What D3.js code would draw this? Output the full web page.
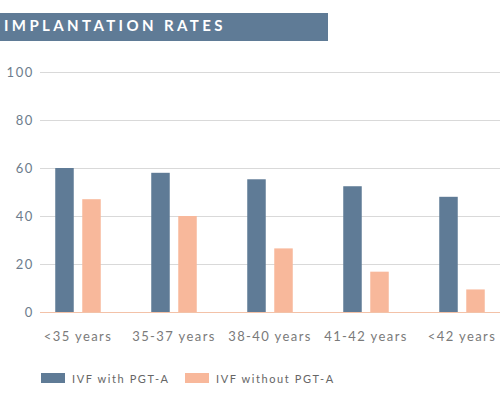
<!DOCTYPE html>
<html>
<head>
<meta charset="utf-8">
<script src="https://cdn.jsdelivr.net/npm/d3@7"></script>
<style>
  html, body { margin: 0; padding: 0; background: #fff; }
  svg { display: block; }
</style>
</head>
<body>
<svg id="chart" width="500" height="400"></svg>
<script>
const title = "IMPLANTATION RATES";
const categories = ["<35 years", "35-37 years", "38-40 years", "41-42 years", "<42 years"];
const seriesNames = ["IVF with PGT-A", "IVF without PGT-A"];
const withPGTA = [60, 58, 55.3, 52.4, 48];
const withoutPGTA = [47, 40, 26.5, 16.8, 9.4];
const yTicks = [0, 20, 40, 60, 80, 100];

const colors = ["#5f7b96", "#f8b89b"];
const svg = d3.select("#chart");

// title banner
svg.append("rect").attr("x", 0).attr("y", 13).attr("width", 328).attr("height", 28)
  .attr("fill", "#5f7b96");
svg.append("text").attr("x", 4).attr("y", 31)
  .attr("font-family", "Lato, 'DejaVu Sans', sans-serif").attr("font-weight", 700)
  .attr("font-size", 15).attr("letter-spacing", 3.4).attr("fill", "#fff")
  .text(title);

const y = d3.scaleLinear().domain([0, 100]).range([312, 72]);
const x0 = d3.scaleBand().domain(categories).range([30, 510])
  .paddingInner(0.526).paddingOuter(0.263);
const x1 = d3.scaleBand().domain(seriesNames).range([0, x0.bandwidth()]).paddingInner(0.315);

// gridlines
const grid = svg.append("g").attr("transform", "translate(40,0)")
  .call(d3.axisLeft(y).tickValues(yTicks.filter(t => t > 0)).tickSize(-460).tickFormat(""));
grid.select(".domain").remove();
grid.selectAll("line").attr("stroke", "#d9d9d9").attr("stroke-width", 1);

// y labels
const yAxis = svg.append("g").attr("transform", "translate(34,0)")
  .call(d3.axisLeft(y).tickValues(yTicks).tickSize(0).tickPadding(0));
yAxis.select(".domain").remove();
yAxis.selectAll("text").attr("font-family", "Lato, 'DejaVu Sans', sans-serif")
  .attr("font-size", 13).attr("letter-spacing", 1.6).attr("fill", "#6d7c8c");

// bars
const data = categories.map((c, i) => ({ cat: c, vals: [withPGTA[i], withoutPGTA[i]] }));
const groups = svg.append("g").selectAll("g").data(data).join("g")
  .attr("transform", d => `translate(${x0(d.cat)},0)`);
groups.selectAll("rect").data(d => d.vals.map((v, k) => ({ key: seriesNames[k], v, k })))
  .join("rect")
  .attr("x", d => x1(d.key)).attr("width", x1.bandwidth())
  .attr("y", d => y(d.v)).attr("height", d => y(0) - y(d.v))
  .attr("fill", d => colors[d.k]);

// baseline
svg.append("line").attr("x1", 40).attr("x2", 500).attr("y1", y(0) + 0.5).attr("y2", y(0) + 0.5)
  .attr("stroke", "#f3c2a8").attr("stroke-width", 1);

// x labels
const xAxis = svg.append("g").attr("transform", `translate(0,${y(0)})`)
  .call(d3.axisBottom(x0).tickSize(0).tickPadding(20));
xAxis.select(".domain").remove();
xAxis.selectAll("text").attr("font-family", "Lato, 'DejaVu Sans', sans-serif")
  .attr("font-size", 13).attr("letter-spacing", 1.4).attr("fill", "#7a7a7a");

// legend
const legendX = [41, 185];
const lg = svg.append("g").selectAll("g").data(seriesNames).join("g")
  .attr("transform", (d, i) => `translate(${legendX[i]},373)`);
lg.append("rect").attr("width", 24).attr("height", 10).attr("fill", (d, i) => colors[i]);
lg.append("text").attr("x", 31).attr("y", 9.5)
  .attr("font-family", "Lato, 'DejaVu Sans', sans-serif").attr("font-size", 11)
  .attr("letter-spacing", 1.6).attr("fill", "#666").text(d => d);
</script>
</body>
</html>
